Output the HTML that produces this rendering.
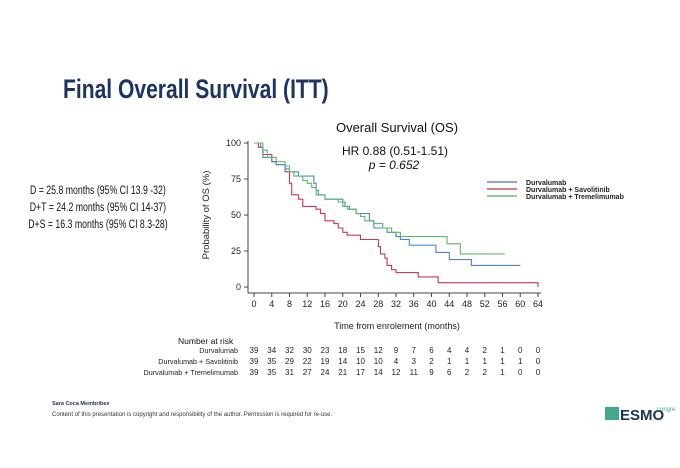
<!DOCTYPE html>
<html><head><meta charset="utf-8"><style>
body{margin:0;width:680px;height:468px;background:#fff;overflow:hidden;position:relative;font-family:"Liberation Sans",sans-serif}
.t{position:absolute;white-space:nowrap}
</style></head><body>
<div class="t" style="left:63px;top:74px;font-size:27px;font-weight:bold;color:#1b3560;transform:scaleX(0.78);transform-origin:0 0">Final Overall Survival (ITT)</div>
<div class="t" style="left:28px;top:183px;width:184px;text-align:center;font-size:11.5px;line-height:17px;color:#111;transform:scaleX(0.76);transform-origin:0 0">D = 25.8 months (95% CI 13.9 -32)<br>D+T = 24.2 months (95% CI 14-37)<br>D+S = 16.3 months (95% CI 8.3-28)</div>
<svg width="680" height="468" style="position:absolute;left:0;top:0" font-family="Liberation Sans, sans-serif">
<text x="397" y="132" font-size="13" text-anchor="middle" fill="#111">Overall Survival (OS)</text>
<text x="395" y="155" font-size="12" text-anchor="middle" fill="#111">HR 0.88 (0.51-1.51)</text>
<text x="394" y="169" font-size="12" text-anchor="middle" font-style="italic" fill="#111">p = 0.652</text>
<g stroke="#444" stroke-width="1" fill="none">
<path d="M248,141V293M248,293H541"/>
<g id="yt"></g><g id="xt"></g>
</g>
<g id="lab" font-size="9" fill="#222"></g>
<text transform="translate(209,215) rotate(-90)" font-size="9.5" text-anchor="middle" fill="#222">Probability of OS (%)</text>
<text x="397" y="329" font-size="9" text-anchor="middle" fill="#222">Time from enrolement (months)</text>
<g id="curves" fill="none" stroke-width="1.1"></g>
<g stroke-width="1.3"><line x1="487" y1="182" x2="517" y2="182" stroke="#4472c4"/><line x1="487" y1="189" x2="517" y2="189" stroke="#c0392b"/><line x1="487" y1="196" x2="517" y2="196" stroke="#4caf50"/></g>
<g font-size="7" font-weight="bold" fill="#222"><text x="526" y="185">Durvalumab</text><text x="526" y="192">Durvalumab + Savolitinib</text><text x="526" y="199">Durvalumab + Tremelimumab</text></g>
<text x="178" y="344" font-size="8.5" fill="#111">Number at risk</text>
<g font-size="7.2" fill="#222" text-anchor="end"><text x="238" y="353">Durvalumab</text><text x="238" y="364">Durvalumab + Savolitinib</text><text x="238" y="375">Durvalumab + Tremelimumab</text></g>
<g id="risk" font-size="8" fill="#222" text-anchor="middle"></g>
<text x="52" y="405" font-size="5.5" font-weight="bold" fill="#1b3560">Sara Coca Membribes</text>
<text x="52" y="416" font-size="6" fill="#333">Content of this presentation is copyright and responsibility of the author. Permission is required for re-use.</text>
<rect x="605" y="407" width="14" height="13" fill="#3fa98a"/>
<text x="620" y="420" font-size="15" font-weight="bold" fill="#1b3560">ESMO</text>
<text x="657" y="411" font-size="6" fill="#3fa98a">congre</text>
</svg>
<script>
var X=m=>254+m*4.4375,Y=p=>287-p*1.44,ns="http://www.w3.org/2000/svg";
function el(g,t,a,txt){var e=document.createElementNS(ns,t);for(var k in a)e.setAttribute(k,a[k]);if(txt!=null)e.textContent=txt;document.getElementById(g).appendChild(e);}
[0,25,50,75,100].forEach(v=>{el("yt","line",{x1:244,x2:248,y1:Y(v),y2:Y(v)});el("lab","text",{x:241,y:Y(v)+3,"text-anchor":"end"},v)});
for(var i=0;i<=16;i++){var m=i*4;el("xt","line",{x1:X(m),x2:X(m),y1:293,y2:297});el("lab","text",{x:X(m),y:307,"text-anchor":"middle"},m)}
function step(pts){var d="M"+X(0)+","+Y(100);pts.forEach(p=>{d+="H"+X(p[0]).toFixed(1)+"V"+Y(p[1]).toFixed(1)});return d}
var blue=[[1,100],[1.5,97],[2,90],[4,87],[5,85],[7,82],[8,80],[10,77],[13.5,72],[14,67],[14.5,64],[16,61],[17,61],[20,59],[20.5,56],[21.5,54],[23,51],[26,46],[27,41],[28,41],[30,38],[32,35],[33,33],[35,29],[40,29],[41,24],[43,24],[44,19],[49,19],[49,15],[60,15],[60,15]];
var red=[[0.5,100],[1,97],[2,92],[4,87],[5,85],[7,80],[8,72],[8.5,64],[10,61],[11,56],[14,54],[15,51],[16,46],[18,44],[19,41],[20,38],[21,36],[24,33],[28,28],[28.5,23],[29.5,20],[30,15],[31,12],[32,10],[37,7],[41.5,3],[64,0]];
var green=[[1,100],[2,95],[3,90],[5,87],[7,84],[8,80],[9,77],[11,74],[12,72],[13,69],[14,64],[16,61],[19,59],[20,56],[21,54],[23,51],[24,49],[25,46],[27,44],[29,41],[31,38],[33,35],[43.5,30],[46.5,23],[56.5,23]];
el("curves","path",{d:step(red),stroke:"#c8375a"});
el("curves","path",{d:step(blue),stroke:"#4a86d0"});
el("curves","path",{d:step(green),stroke:"#5cb86a"});
var rows=[[39,34,32,30,23,18,15,12,9,7,6,4,4,2,1,0,0],[39,35,29,22,19,14,10,10,4,3,2,1,1,1,1,1,0],[39,35,31,27,24,21,17,14,12,11,9,6,2,2,1,0,0]];
rows.forEach((r,j)=>r.forEach((v,i)=>el("risk","text",{x:X(i*4),y:353+j*11},v)));
</script>
</body></html>
